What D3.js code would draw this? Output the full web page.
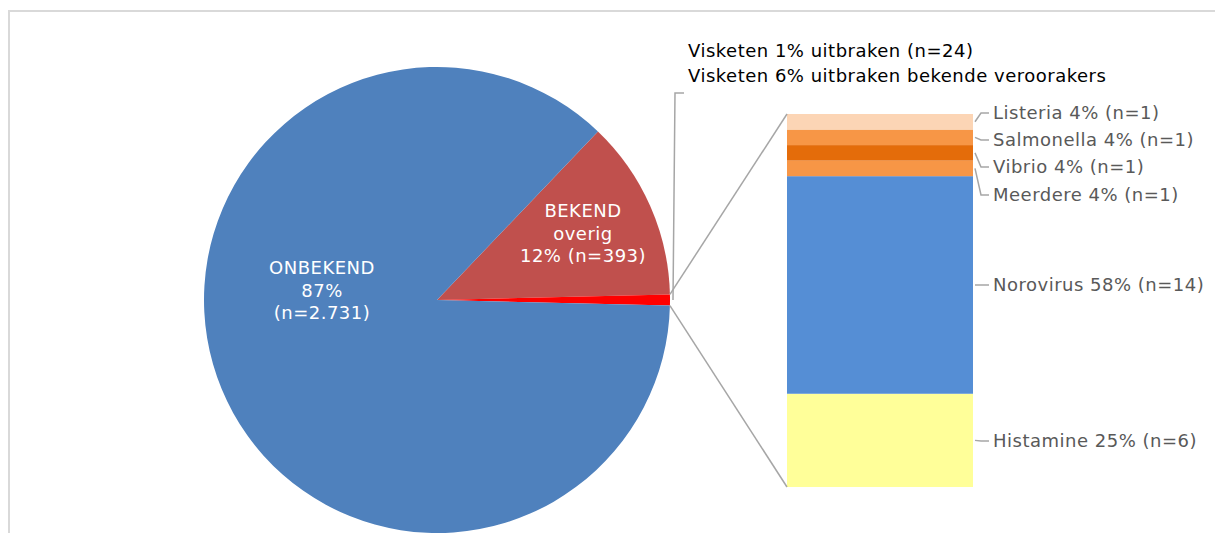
<!DOCTYPE html>
<html>
<head>
    <meta charset="utf-8">
    <title>Visketen uitbraken</title>
    <style>
        body { margin: 0; background: #fff; }
        text { font-family: "DejaVu Sans", Verdana, sans-serif; font-size: 18px; letter-spacing: 0.5px; }
        .lead { fill: none; stroke: #a6a6a6; stroke-width: 1.5px; }
    </style>
</head>
<body>
<div id="chart"></div>
<script src="https://cdn.jsdelivr.net/npm/d3@7"></script>
<script>
    // pie data (order as drawn, clockwise)
    var pieNames = ["BEKEND overig", "Visketen", "ONBEKEND"];
    var pieValues = [393, 24, 2731];
    var pieColors = ["#C0504D", "#FF0000", "#4F81BD"];
    var pieLabels = [
        ["BEKEND", "overig", "12% (n=393)"],
        [],
        ["ONBEKEND", "87%", "(n=2.731)"]
    ];

    // bar data (bottom to top)
    var barNames = ["Histamine", "Norovirus", "Meerdere", "Vibrio", "Salmonella", "Listeria"];
    var barValues = [6, 14, 1, 1, 1, 1];
    var barColors = ["#FFFF99", "#558ED5", "#F79646", "#E46C0A", "#F79646", "#FCD5B5"];
    var barLabels = ["Histamine 25% (n=6)", "Norovirus 58% (n=14)", "Meerdere 4% (n=1)",
                     "Vibrio 4% (n=1)", "Salmonella 4% (n=1)", "Listeria 4% (n=1)"];
    var barLabelY = [441, 285, 195, 167, 140, 113];

    var width = 1215, height = 533;
    var cx = 437, cy = 300, r = 233;

    var svg = d3.select("#chart").append("svg")
        .attr("width", width)
        .attr("height", height);

    // frame
    svg.append("path")
        .attr("d", "M9,533 V11 H1215")
        .attr("fill", "none")
        .attr("stroke", "#d9d9d9")
        .attr("stroke-width", 2);

    // pie, visketen slice centred at 3 o'clock
    var total = d3.sum(pieValues);
    var start = Math.PI / 2 - (pieValues[0] + pieValues[1] / 2) / total * 2 * Math.PI;
    var pie = d3.pie().sort(null).startAngle(start).endAngle(start + 2 * Math.PI);
    var arcs = pie(pieValues);
    var arc = d3.arc().innerRadius(0).outerRadius(r);

    var g = svg.append("g").attr("transform", "translate(" + cx + "," + cy + ")");
    g.selectAll(".slice")
        .data(arcs)
        .enter().append("path")
        .attr("class", "slice")
        .attr("d", arc)
        .attr("fill", function(d, i) { return pieColors[i]; });

    // label anchors inside the slices
    arcs.forEach(function(d, i) {
        if (!pieLabels[i].length) return;
        var c = i === 0 ? [146, -83] : [-115, -26];
        var t = g.append("text")
            .attr("fill", "#fff")
            .attr("text-anchor", "middle")
            .attr("x", c[0])
            .attr("y", c[1]);
        pieLabels[i].forEach(function(s, k) {
            t.append("tspan").attr("x", c[0]).attr("dy", k === 0 ? "0em" : "1.25em").text(s);
        });
    });

    // bar
    var barX = 787, barW = 186;
    var y = d3.scaleLinear().domain([0, d3.sum(barValues)]).range([487, 114]);
    var cum = 0;
    var segs = barValues.map(function(v, i) {
        var s = { y0: cum, y1: cum + v, i: i };
        cum += v;
        return s;
    });
    svg.selectAll(".seg")
        .data(segs)
        .enter().append("rect")
        .attr("class", "seg")
        .attr("x", barX)
        .attr("width", barW)
        .attr("y", function(d) { return y(d.y1); })
        .attr("height", function(d) { return y(d.y0) - y(d.y1); })
        .attr("fill", function(d) { return barColors[d.i]; });

    // connector lines pie -> bar
    var vk = arcs[1];
    function pt(a) { return [cx + r * Math.sin(a), cy - r * Math.cos(a)]; }
    var pTop = pt(vk.startAngle), pBot = pt(vk.endAngle);
    svg.append("line").attr("class", "lead")
        .attr("x1", pTop[0]).attr("y1", pTop[1])
        .attr("x2", barX).attr("y2", y(d3.sum(barValues)));
    svg.append("line").attr("class", "lead")
        .attr("x1", pBot[0]).attr("y1", pBot[1])
        .attr("x2", barX).attr("y2", y(0));

    // visketen label
    var mid = pt((vk.startAngle + vk.endAngle) / 2);
    svg.append("path").attr("class", "lead")
        .attr("d", "M" + (mid[0] + 3) + "," + mid[1] + " L675,93 H684");
    svg.append("text").attr("x", 688).attr("y", 57).attr("fill", "#000")
        .text("Visketen 1% uitbraken (n=24)");
    svg.append("text").attr("x", 688).attr("y", 82).attr("fill", "#000")
        .text("Visketen 6% uitbraken bekende veroorakers");

    // bar labels
    var bx = barX + barW;
    segs.forEach(function(d, i) {
        var my = (y(d.y0) + y(d.y1)) / 2;
        var ly = barLabelY[i];
        svg.append("path").attr("class", "lead")
            .attr("d", "M" + (bx + 2) + "," + my + " L" + (bx + 8) + "," + ly + " H" + (bx + 16));
        svg.append("text")
            .attr("x", bx + 20)
            .attr("y", ly)
            .attr("dy", "0.35em")
            .attr("fill", "#595959")
            .text(barLabels[i]);
    });
</script>
</body>
</html>
